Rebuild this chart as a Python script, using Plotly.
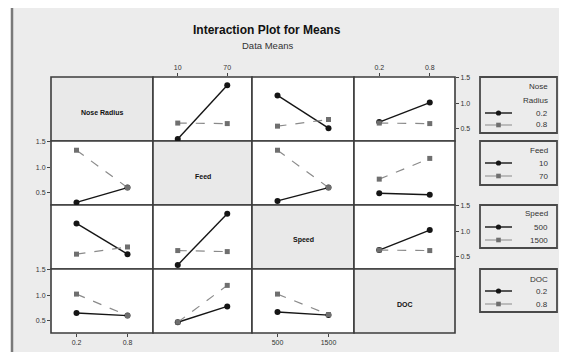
import plotly.graph_objects as go

# ---------------- data ----------------
factors = ["Nose Radius", "Feed", "Speed", "DOC"]
legend_titles = ["Nose<br>Radius", "Feed", "Speed", "DOC"]
nose_levels = ["0.2", "0.8"]
feed_levels = ["10", "70"]
speed_levels = ["500", "1500"]
doc_levels = ["0.2", "0.8"]
level_labels = [nose_levels, feed_levels, speed_levels, doc_levels]
y_tick_vals = [0.5, 1.0, 1.5]
y_tick_text = ["0.5", "1.0", "1.5"]

# means[row factor level][x level]  (row factor = trace, column factor = x axis)
nr_by_feed = [[0.30, 1.35], [0.61, 0.60]]
nr_by_speed = [[1.15, 0.51], [0.55, 0.68]]
nr_by_doc = [[0.63, 1.01], [0.61, 0.60]]
feed_by_nr = [[0.31, 0.60], [1.33, 0.60]]
feed_by_speed = [[0.34, 0.60], [1.33, 0.60]]
feed_by_doc = [[0.49, 0.46], [0.765, 1.17]]
speed_by_nr = [[1.15, 0.55], [0.55, 0.69]]
speed_by_feed = [[0.34, 1.34], [0.62, 0.60]]
speed_by_doc = [[0.63, 1.02], [0.63, 0.62]]
doc_by_nr = [[0.65, 0.60], [1.02, 0.60]]
doc_by_feed = [[0.47, 0.78], [0.47, 1.19]]
doc_by_speed = [[0.67, 0.61], [1.02, 0.62]]

cells = [
    [None, nr_by_feed, nr_by_speed, nr_by_doc],
    [feed_by_nr, None, feed_by_speed, feed_by_doc],
    [speed_by_nr, speed_by_feed, None, speed_by_doc],
    [doc_by_nr, doc_by_feed, doc_by_speed, None],
]

# ---------------- layout constants ----------------
# page body has an 8px default margin; the figure is sized to fit the window
OFF = 8
W, H = 567 - 2 * OFF, 360 - 2 * OFF
col_edges = [51, 153, 252, 354, 455]
row_edges = [77, 141, 205, 269, 333]
FONT = "Liberation Sans, Arial, sans-serif"
BLACK = "#151515"
GRAY = "#8a8a8a"
BORDER = "#3c3c3c"


def X(px):
    return (px - OFF) / W


def Y(py):
    return 1 - (py - OFF) / H


fig = go.Figure()
layout = dict(
    width=W, height=H,
    margin=dict(l=0, r=0, t=0, b=0, pad=0),
    paper_bgcolor="white",
    plot_bgcolor="rgba(0,0,0,0)",
    showlegend=False,
    font=dict(family=FONT, size=7, color="#333"),
)
shapes = []
annotations = []


def note(px, py, text, size, color="#333", xanchor="center"):
    annotations.append(dict(xref="paper", yref="paper", x=X(px), y=Y(py),
                            xanchor=xanchor, yanchor="middle", text=text,
                            showarrow=False,
                            font=dict(size=size, color=color, family=FONT)))


# outer frame
shapes.append(dict(type="rect", xref="paper", yref="paper",
                   x0=X(12), x1=X(585), y0=Y(358.5), y1=Y(5),
                   fillcolor="#ececec", line=dict(color="#7a7a7a", width=2.5),
                   layer="below"))

for r in range(4):
    for c in range(4):
        k = r * 4 + c + 1
        sx = "" if k == 1 else str(k)
        x0, x1 = col_edges[c], col_edges[c + 1]
        y0, y1 = row_edges[r], row_edges[r + 1]
        diag = (r == c)
        shapes.append(dict(type="rect", xref="paper", yref="paper",
                           x0=X(x0), x1=X(x1), y0=Y(y1), y1=Y(y0),
                           fillcolor="#e9e9e9" if diag else "white",
                           line=dict(color=BORDER, width=1.6), layer="below"))
        if diag:
            note((x0 + x1) / 2, (y0 + y1) / 2 + 3, "<b>%s</b>" % factors[r], 7, "#111")
            continue

        xshow = (r == 0 and c in (1, 3)) or (r == 3 and c in (0, 2))
        yshow = (c == 0 and r in (1, 3)) or (c == 3 and r in (0, 2))
        layout["xaxis" + sx] = dict(
            domain=[X(x0), X(x1)], anchor="y" + sx, range=[-0.5, 1.5],
            tickvals=[0, 1], ticktext=level_labels[c], automargin=False,
            showgrid=False, zeroline=False, showline=False,
            ticks="outside" if xshow else "", ticklen=3, tickwidth=1, tickcolor="#444",
            showticklabels=xshow, side="top" if r == 0 else "bottom",
            tickfont=dict(size=7, color="#333", family=FONT), fixedrange=True)
        layout["yaxis" + sx] = dict(
            domain=[Y(y1), Y(y0)], anchor="x" + sx, range=[0.26, 1.51],
            tickvals=y_tick_vals, ticktext=y_tick_text, automargin=False,
            showgrid=False, zeroline=False, showline=False,
            ticks="outside" if yshow else "", ticklen=3, tickwidth=1, tickcolor="#444",
            showticklabels=yshow, side="right" if c == 3 else "left",
            tickfont=dict(size=7, color="#333", family=FONT), fixedrange=True)

        data = cells[r][c]
        for a in range(2):
            solid = (a == 0)
            fig.add_trace(go.Scatter(
                x=[0, 1], y=data[a], mode="lines+markers",
                xaxis="x" + sx, yaxis="y" + sx,
                name="%s %s" % (factors[r], level_labels[r][a]),
                line=dict(color=BLACK if solid else GRAY, width=1.4 if solid else 1.2,
                          dash="solid" if solid else "dash"),
                marker=dict(symbol="circle" if solid else "square",
                            size=6 if solid else 5,
                            color=BLACK if solid else "#6f6f6f"),
                hoverinfo="skip"))

# ---------------- legends (drawn manually) ----------------
legend_boxes = [
    (77, 133, [87, 100], [113, 125]),
    (141, 185, [150], [163, 176]),
    (205, 248, [214], [227, 240]),
    (269, 312, [279], [291, 304]),
]
for r, (top, bot, title_ys, item_ys) in enumerate(legend_boxes):
    shapes.append(dict(type="rect", xref="paper", yref="paper",
                       x0=X(480), x1=X(557), y0=Y(bot), y1=Y(top),
                       fillcolor="#ececec", line=dict(color="#4a4a4a", width=1.8),
                       layer="below"))
    title_lines = legend_titles[r].split("<br>")
    for t, ty in zip(title_lines, title_ys):
        note(550, ty, t, 8, xanchor="right")
    for a, iy in enumerate(item_ys):
        solid = (a == 0)
        shapes.append(dict(type="line", xref="paper", yref="paper",
                           x0=X(485), x1=X(512), y0=Y(iy), y1=Y(iy),
                           line=dict(color=BLACK if solid else GRAY,
                                     width=1.4 if solid else 1.0)))
        sz = 2.6 if solid else 2.3
        shapes.append(dict(type="circle" if solid else "rect", xref="paper", yref="paper",
                           x0=X(498.5 - sz), x1=X(498.5 + sz), y0=Y(iy + sz), y1=Y(iy - sz),
                           fillcolor=BLACK if solid else "#6f6f6f", line=dict(width=0)))
        note(550, iy, level_labels[r][a], 8, xanchor="right")

# titles
note(267, 30, "<b>Interaction Plot for Means</b>", 12, "#111")
note(267, 46, "Data Means", 9.5)

layout["shapes"] = shapes
layout["annotations"] = annotations
fig.update_layout(**layout)
fig.write_html("out.html")
